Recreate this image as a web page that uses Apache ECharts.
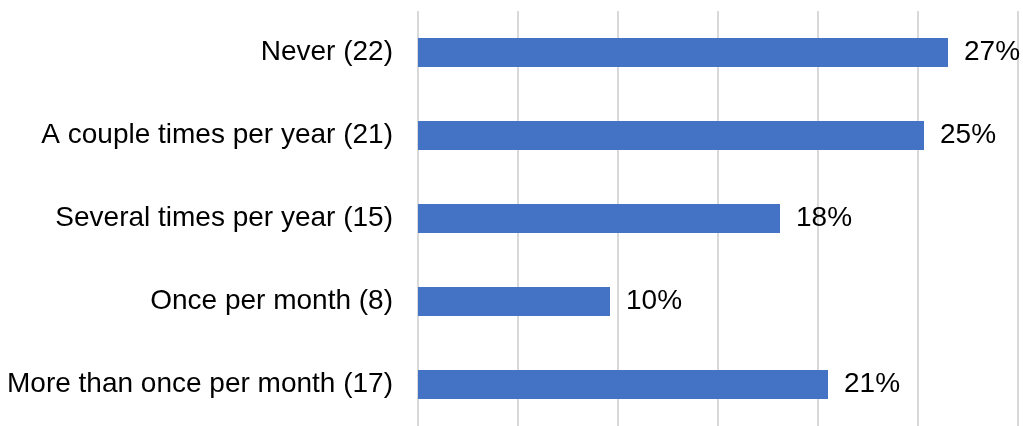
<!DOCTYPE html>
<html>
<head>
<meta charset="utf-8">
<script src="https://cdn.jsdelivr.net/npm/echarts@6/dist/echarts.min.js"></script>
<style>
html,body{margin:0;padding:0;background:#fff;}
#chart{width:1023px;height:426px;}
</style>
</head>
<body>
<div id="chart"></div>
<script>
var categories = ['Never (22)', 'A couple times per year (21)', 'Several times per year (15)', 'Once per month (8)', 'More than once per month (17)'];
var values = [26.5, 25.3, 18.1, 9.6, 20.5];
var valueLabels = ['27%', '25%', '18%', '10%', '21%'];

var chart = echarts.init(document.getElementById('chart'));
chart.setOption({
  animation: false,
  backgroundColor: '#ffffff',
  grid: { left: 418, top: 11, width: 600, height: 420, containLabel: false },
  xAxis: {
    type: 'value', min: 0, max: 30, interval: 5,
    axisLabel: { show: false },
    axisLine: { show: false },
    axisTick: { show: false },
    splitLine: { show: true, lineStyle: { color: '#d9d9d9', width: 2 } }
  },
  yAxis: {
    type: 'category', data: categories, inverse: true,
    axisLine: { show: false },
    axisTick: { show: false },
    axisLabel: { margin: 25, fontSize: 28, color: '#000000', fontFamily: 'Liberation Sans, Arial, sans-serif' }
  },
  series: [{
    type: 'bar',
    data: values,
    barCategoryGap: '65%',
    itemStyle: { color: '#4472C4' },
    label: {
      show: true, position: 'right', distance: 16,
      fontSize: 28, color: '#000000', fontFamily: 'Liberation Sans, Arial, sans-serif',
      formatter: function (p) { return valueLabels[p.dataIndex]; }
    }
  }]
});
</script>
</body>
</html>
